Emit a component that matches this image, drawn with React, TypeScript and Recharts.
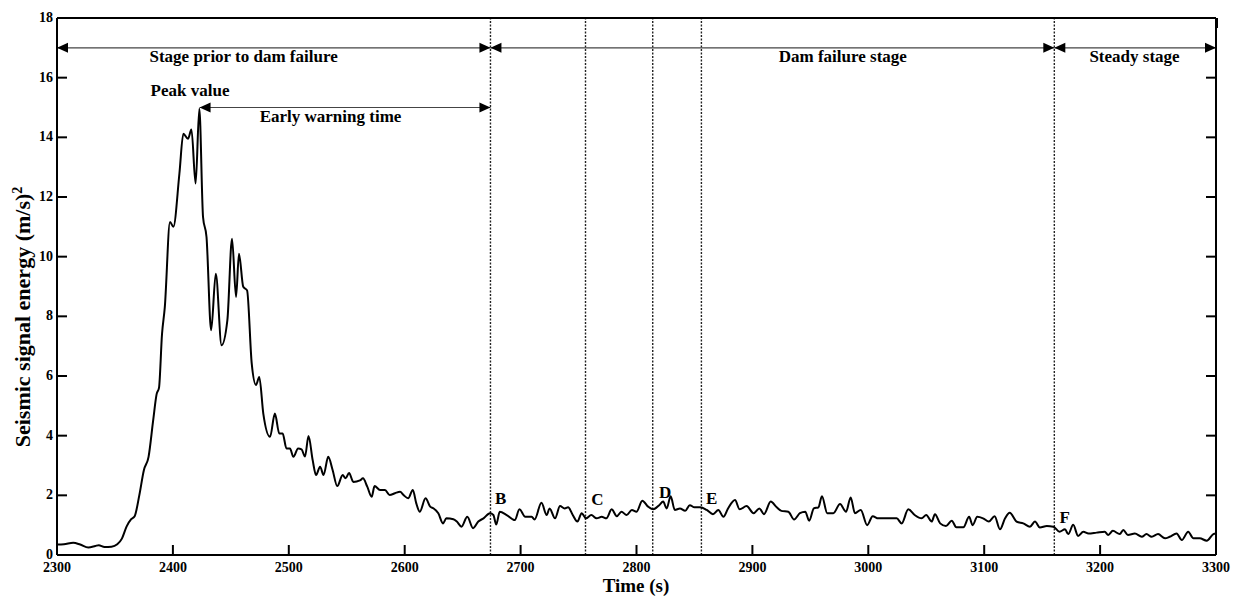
import React from 'react'
import { Line, LineChart, ReferenceDot, ReferenceLine, XAxis, YAxis } from 'recharts'

const timeS = [
  2300, 2306, 2314, 2320, 2327, 2333, 2336, 2341, 2347, 2352, 2356, 2360, 2364, 2367, 2371, 2375, 2379, 2383, 2386, 2388,
  2390.6, 2393, 2397.5, 2400.4, 2405.6, 2409, 2413, 2416, 2419.6, 2422.8, 2426, 2429, 2433, 2437, 2442, 2447, 2451, 2454.5,
  2457, 2460.7, 2464, 2468, 2471.7, 2474.5, 2478, 2483.8, 2488, 2491.8, 2494.7, 2498, 2501, 2504, 2508, 2511, 2514, 2517,
  2520.6, 2523.5, 2527, 2530, 2534, 2537.8, 2541.8, 2546.5, 2549, 2552, 2555.7, 2561.4, 2564, 2567.7, 2571.5, 2574, 2578.7,
  2583, 2587, 2591.6, 2596, 2599, 2603, 2607, 2610, 2613, 2618, 2622, 2625, 2629, 2633, 2636, 2642, 2645, 2649, 2654, 2659,
  2663.5, 2668, 2673.6, 2676.5, 2679, 2682, 2688, 2695, 2699, 2704, 2709.6, 2712, 2718, 2722.5, 2725, 2729.7, 2734, 2738,
  2741, 2745, 2749, 2752.7, 2756.4, 2761, 2765.6, 2770, 2774, 2778.6, 2783, 2787, 2791.5, 2796, 2800, 2805, 2810, 2814.5,
  2819.6, 2823, 2826, 2829.5, 2833, 2837.5, 2842, 2846, 2850, 2855, 2860.6, 2866, 2870.6, 2875, 2879, 2885, 2889, 2895,
  2901, 2906, 2910, 2915.8, 2921, 2925, 2931, 2936, 2941, 2945.6, 2949, 2953, 2957, 2960, 2964.6, 2969.8, 2975.6, 2980.8,
  2984.8, 2988.5, 2993.5, 2999, 3003.8, 3008.6, 3016, 3024.5, 3028.8, 3034.5, 3040, 3046, 3050, 3054.7, 3057.5, 3062, 3067,
  3072, 3076, 3082, 3087, 3090, 3094, 3099, 3104, 3109, 3113.6, 3118, 3122, 3128, 3133.7, 3139.5, 3143.8, 3148, 3154,
  3159.6, 3165, 3169.7, 3172.5, 3176.8, 3181, 3185.5, 3190, 3197, 3204, 3207, 3211, 3217, 3220, 3224, 3230, 3236, 3240,
  3244.5, 3250, 3256, 3260, 3266, 3270.5, 3276, 3280.5, 3286, 3292, 3297.7, 3300,
]

const energy = [
  0.35, 0.36, 0.41, 0.35, 0.25, 0.3, 0.33, 0.27, 0.28, 0.36, 0.55, 0.95, 1.2, 1.3, 2.0, 2.85, 3.29, 4.52, 5.4, 5.6,
  7.4, 8.3, 11.16, 11.0, 12.78, 14.12, 13.95, 14.26, 12.45, 14.96, 11.33, 10.66, 7.53, 9.43, 7.03, 7.87, 10.6, 8.65,
  10.1, 8.99, 8.87, 6.42, 5.7, 5.97, 4.74, 3.96, 4.74, 4.07, 4.07, 3.57, 3.57, 3.29, 3.57, 3.54, 3.3, 3.99,
  3.18, 2.68, 2.96, 2.68, 3.29, 2.85, 2.31, 2.68, 2.57, 2.75, 2.45, 2.5, 2.57, 2.29, 1.95, 2.31, 2.18,
  2.18, 2.01, 2.07, 2.12, 2.01, 1.9, 2.18, 1.73, 1.45, 1.9, 1.62, 1.56, 1.4, 1.06, 1.23, 1.2, 1.12, 0.95, 1.28, 0.9,
  1.12, 1.23, 1.4, 1.34, 1.02, 1.45, 1.34, 1.17, 1.53, 1.28, 1.28, 1.19, 1.75, 1.34, 1.56, 1.23, 1.64, 1.56,
  1.6, 1.34, 1.12, 1.4, 1.23, 1.34, 1.23, 1.28, 1.23, 1.53, 1.3, 1.45, 1.34, 1.51, 1.45, 1.82, 1.62, 1.53,
  1.67, 1.79, 1.56, 1.97, 1.51, 1.56, 1.48, 1.67, 1.6, 1.6, 1.51, 1.37, 1.51, 1.28, 1.56, 1.84, 1.53, 1.64,
  1.4, 1.56, 1.37, 1.79, 1.6, 1.48, 1.45, 1.19, 1.4, 1.45, 1.15, 1.56, 1.6, 1.97, 1.4, 1.4, 1.71, 1.45,
  1.93, 1.4, 1.51, 1.0, 1.3, 1.23, 1.23, 1.23, 1.06, 1.53, 1.34, 1.23, 1.34, 1.12, 1.37, 1.06, 0.97,
  1.15, 0.93, 0.93, 1.28, 1.0, 1.28, 1.23, 1.12, 1.3, 0.86, 1.23, 1.42, 1.12, 1.06, 0.95, 1.12, 0.92, 0.97,
  0.95, 0.78, 0.86, 0.7, 1.01, 0.64, 0.78, 0.72, 0.75, 0.78, 0.67, 0.81, 0.7, 0.84, 0.67, 0.72, 0.61, 0.7,
  0.61, 0.7, 0.56, 0.61, 0.72, 0.5, 0.78, 0.56, 0.56, 0.48, 0.7, 0.72,
]

const xTicks = [2300, 2400, 2500, 2600, 2700, 2800, 2900, 3000, 3100, 3200, 3300]
const yTicks = [0, 2, 4, 6, 8, 10, 12, 14, 16, 18]

// stage boundaries (s)
const boundaries = [2674, 2756, 2814, 2856, 3160.5]
const pointLetters = [
  { t: 2678, v: 1.71, label: 'B' },
  { t: 2761, v: 1.67, label: 'C' },
  { t: 2819.5, v: 1.9, label: 'D' },
  { t: 2860, v: 1.71, label: 'E' },
  { t: 3165, v: 1.08, label: 'F' },
]
const stageArrows = [
  { from: 2300, to: 2674, v: 17 },
  { from: 2674, to: 3160.5, v: 17 },
  { from: 3160.5, to: 3300, v: 17 },
  { from: 2423, to: 2674, v: 15 },
]
const stageTexts = [
  { t: 2461, v: 16.51, label: 'Stage prior to dam failure' },
  { t: 2978, v: 16.51, label: 'Dam failure stage' },
  { t: 3229.7, v: 16.51, label: 'Steady stage' },
  { t: 2414.8, v: 15.4, label: 'Peak value' },
  { t: 2536, v: 14.5, label: 'Early warning time' },
]

const data = timeS.map((t, i) => ({ t, e: energy[i] }))

const FONT = '"Liberation Serif", "Times New Roman", serif'

const BottomTick = (props: any) => {
  const { x, y, payload } = props
  return (
    <g>
      <line x1={x} x2={x} y1={y} y2={y - 10} stroke="#000" strokeWidth={2} />
      <text x={x} y={y + 17} textAnchor="middle" fontSize={14} fontWeight="bold" fontFamily={FONT} fill="#000">
        {payload.value}
      </text>
    </g>
  )
}

const TopTick = (props: any) => {
  const { x, y } = props
  return <line x1={x} x2={x} y1={y} y2={y + 10} stroke="#000" strokeWidth={2} />
}

const LeftTick = (props: any) => {
  const { x, y, payload } = props
  return (
    <g>
      <line x1={x} x2={x + 10} y1={y} y2={y} stroke="#000" strokeWidth={2} />
      <text x={x - 4} y={y + 4} textAnchor="end" fontSize={14} fontWeight="bold" fontFamily={FONT} fill="#000">
        {payload.value}
      </text>
    </g>
  )
}

const RightTick = (props: any) => {
  const { x, y } = props
  return <line x1={x} x2={x - 10} y1={y} y2={y} stroke="#000" strokeWidth={2} />
}

const arrowShape = (p: any) => {
  const { x1, y1, x2 } = p
  const y = y1
  return (
    <g>
      <line x1={x1} x2={x2} y1={y} y2={y} stroke="#444" strokeWidth={1.2} />
      <polygon points={`${x1},${y} ${x1 + 11},${y - 5} ${x1 + 11},${y + 5}`} fill="#000" />
      <polygon points={`${x2},${y} ${x2 - 11},${y - 5} ${x2 - 11},${y + 5}`} fill="#000" />
    </g>
  )
}

const textShape = (label: string, size: number, anchor: string) => (p: any) => (
  <text x={p.cx} y={p.cy} textAnchor={anchor} fontSize={size} fontWeight="bold" fontFamily={FONT} fill="#000">
    {label}
  </text>
)

export default function App() {
  return (
    <div style={{ position: 'absolute', left: 0, top: 0, background: '#fff' }}>
      <LineChart width={1233} height={597} data={data} margin={{ top: 18, right: 17, bottom: 12, left: 17 }}>
        <XAxis
          dataKey="t"
          type="number"
          domain={[2300, 3300]}
          ticks={xTicks}
          allowDataOverflow
          height={30}
          tickSize={0}
          tickMargin={0}
          tickLine={false}
          tick={BottomTick}
          axisLine={{ stroke: '#000', strokeWidth: 2 }}
        />
        <XAxis
          xAxisId="top"
          orientation="top"
          type="number"
          domain={[2300, 3300]}
          ticks={xTicks.slice(1, -1)}
          allowDataOverflow
          height={10}
          mirror
          tickSize={0}
          tickMargin={0}
          tickLine={false}
          tick={TopTick}
          axisLine={{ stroke: '#000', strokeWidth: 2 }}
        />
        <YAxis
          type="number"
          domain={[0, 18]}
          ticks={yTicks}
          allowDataOverflow
          width={40}
          tickSize={0}
          tickMargin={0}
          tickLine={false}
          tick={LeftTick}
          axisLine={{ stroke: '#000', strokeWidth: 2 }}
        />
        <YAxis
          yAxisId="right"
          orientation="right"
          type="number"
          domain={[0, 18]}
          ticks={yTicks.slice(1, -1)}
          allowDataOverflow
          width={10}
          mirror
          tickSize={0}
          tickMargin={0}
          tickLine={false}
          tick={RightTick}
          axisLine={{ stroke: '#000', strokeWidth: 2 }}
        />
        {boundaries.map((b) => (
          <ReferenceLine key={b} x={b} stroke="#222" strokeWidth={1.4} strokeDasharray="2 1.5" ifOverflow="visible" />
        ))}
        {stageArrows.map((a, i) => (
          <ReferenceLine
            key={'arr' + i}
            segment={[{ x: a.from, y: a.v }, { x: a.to, y: a.v }]}
            ifOverflow="visible"
            shape={arrowShape}
          />
        ))}
        {stageTexts.map((s) => (
          <ReferenceDot key={s.label} x={s.t} y={s.v} r={0} ifOverflow="visible" shape={textShape(s.label, 17, 'middle')} />
        ))}
        {pointLetters.map((s) => (
          <ReferenceDot key={s.label} x={s.t} y={s.v} r={0} ifOverflow="visible" shape={textShape(s.label, 17, 'start')} />
        ))}
        <Line
          type="monotone"
          dataKey="e"
          stroke="#000"
          strokeWidth={2}
          dot={false}
          isAnimationActive={false}
        />
        <text x={636} y={592} textAnchor="middle" fontSize={19} fontWeight="bold" fontFamily={FONT} fill="#000">
          Time (s)
        </text>
        <text
          transform="translate(30, 317) rotate(-90)"
          textAnchor="middle"
          fontSize={22}
          fontWeight="bold"
          fontFamily={FONT}
          fill="#000"
        >
          Seismic signal energy (m/s)<tspan dy={-8} fontSize={14}>2</tspan>
        </text>
      </LineChart>
    </div>
  )
}
